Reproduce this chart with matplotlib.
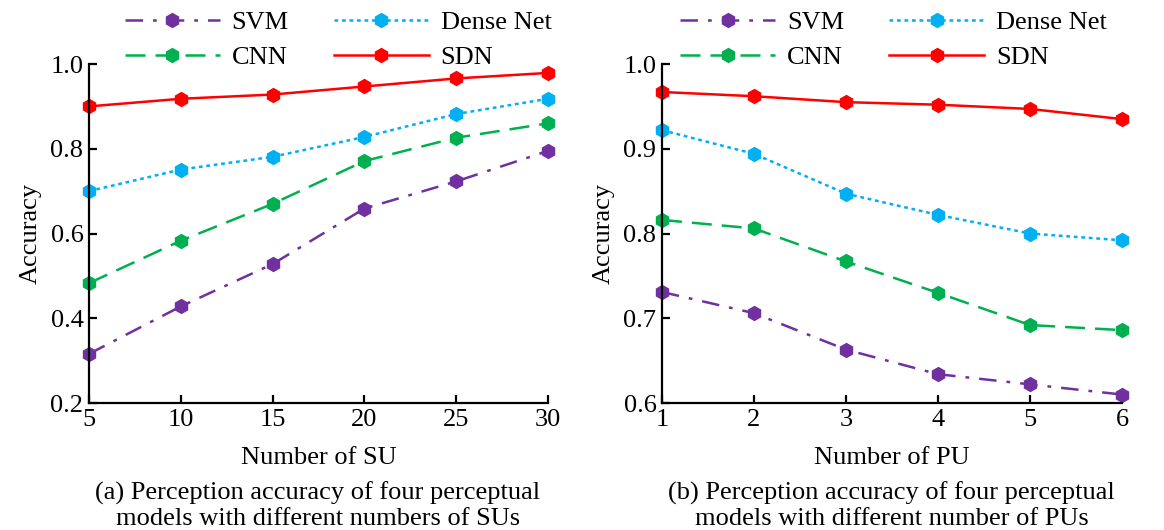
import matplotlib
matplotlib.use('Agg')
import matplotlib.pyplot as plt

plt.rcParams['font.family'] = ['Liberation Serif', 'DejaVu Serif']
plt.rcParams['mathtext.fontset'] = 'stix'

# (a) accuracy vs number of SUs
su = [5, 10, 15, 20, 25, 30]
svm_a = [0.316, 0.428, 0.528, 0.659, 0.723, 0.795]
cnn_a = [0.483, 0.583, 0.670, 0.771, 0.826, 0.860]
dense_a = [0.700, 0.751, 0.781, 0.828, 0.882, 0.918]
sdn_a = [0.900, 0.918, 0.928, 0.947, 0.966, 0.979]

# (b) accuracy vs number of PUs
pu = [1, 2, 3, 4, 5, 6]
svm_b = [0.731, 0.706, 0.663, 0.634, 0.622, 0.610]
cnn_b = [0.816, 0.806, 0.767, 0.730, 0.692, 0.686]
dense_b = [0.922, 0.894, 0.847, 0.822, 0.800, 0.792]
sdn_b = [0.967, 0.962, 0.955, 0.952, 0.947, 0.935]

names = ['SVM', 'CNN', 'Dense Net', 'SDN']
colors = ['#7030A0', '#00B050', '#00B0F0', '#FF0000']
styles = [(0, (7, 4, 1.5, 4)), (0, (8, 4)), (0, (1.5, 1.5)), '-']


def draw(ax, x, series, ylim, yticks, xlabel, legend_x):
    for y, name, c, ls in zip(series, names, colors, styles):
        ax.plot(x, y, color=c, linestyle=ls, linewidth=1.8,
                marker='h', markersize=10, label=name, clip_on=False)
    ax.set_xlim(x[0], x[-1])
    ax.set_ylim(ylim)
    ax.set_xticks(x)
    ax.set_yticks(yticks)
    ax.set_yticklabels(['%.1f' % v for v in yticks])
    ax.spines['top'].set_visible(False)
    ax.spines['right'].set_visible(False)
    for s in ['left', 'bottom']:
        ax.spines[s].set_linewidth(1.6)
    ax.tick_params(direction='in', length=6, width=1.6, labelsize=19, pad=4)
    ax.set_xlabel(xlabel, fontsize=19, labelpad=12)
    ax.set_ylabel('Accuracy', fontsize=19, labelpad=6)
    ax.legend(loc='lower left', bbox_to_anchor=(legend_x, 0.985), ncol=2,
              frameon=False, fontsize=19, handlelength=3.6,
              columnspacing=1.7, handletextpad=0.45, labelspacing=0.45,
              borderpad=0, borderaxespad=0)


fig = plt.figure(figsize=(11.64, 5.30), dpi=100)
ax1 = fig.add_axes([0.0765, 0.2396, 0.3943, 0.6396])
ax2 = fig.add_axes([0.5687, 0.2396, 0.3952, 0.6396])

draw(ax1, su, [svm_a, cnn_a, dense_a, sdn_a], (0.2, 1.0),
     [0.2, 0.4, 0.6, 0.8, 1.0], 'Number of SU', 0.078)
draw(ax2, pu, [svm_b, cnn_b, dense_b, sdn_b], (0.6, 1.0),
     [0.6, 0.7, 0.8, 0.9, 1.0], 'Number of PU', 0.04)

fig.text(0.273, 0.046, '(a) Perception accuracy of four perceptual\n'
         'models with different numbers of SUs',
         ha='center', va='center', fontsize=19, linespacing=1.15)
fig.text(0.766, 0.046, '(b) Perception accuracy of four perceptual\n'
         'models with different number of PUs',
         ha='center', va='center', fontsize=19, linespacing=1.15)

fig.savefig('out.png', dpi=100)
